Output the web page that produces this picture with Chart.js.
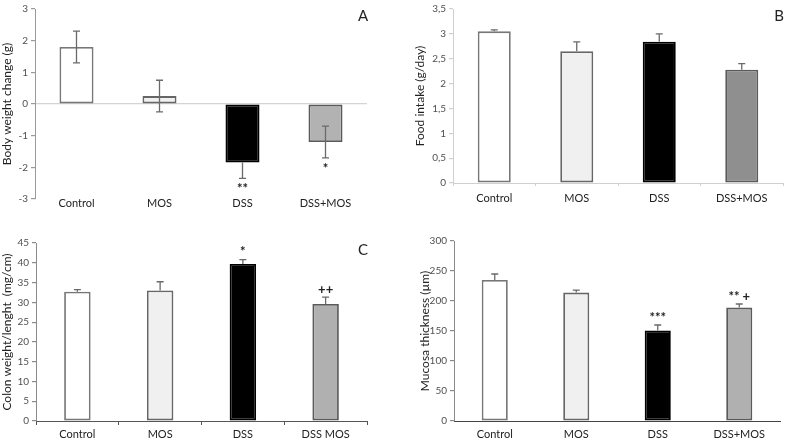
<!DOCTYPE html>
<html>
<head>
<meta charset="utf-8">
<script src="https://cdn.jsdelivr.net/npm/chart.js@4"></script>
<style>
  body { margin: 0; background: #fff; width: 787px; height: 441px; position: relative; overflow: hidden; }
  canvas { position: absolute; }
</style>
</head>
<body>
<canvas id="cA" width="395" height="220" style="left:0;top:0"></canvas>
<canvas id="cB" width="387" height="220" style="left:400px;top:0"></canvas>
<canvas id="cC" width="395" height="221" style="left:0;top:220px"></canvas>
<canvas id="cD" width="387" height="221" style="left:400px;top:220px"></canvas>
<script>
// groups
const groups = ["Control", "MOS", "DSS", "DSS+MOS"];
const groupsC = ["Control", "MOS", "DSS", "DSS MOS"];

// A - body weight change (g)
const weightChange = [1.8, 0.25, -1.85, -1.2];
const weightErr = [0.5, 0.5, 0.5, 0.5];
const weightSig = ["", "", "**", "*"];

// B - food intake (g/day)
const foodIntake = [3.05, 2.65, 2.84, 2.28];
const foodErr = [0.03, 0.19, 0.16, 0.12];

// C - colon weight/lenght (mg/cm)
const colonRatio = [32.7, 33.0, 39.7, 29.6];
const colonErr = [0.5, 2.2, 1.1, 1.7];
const colonSig = ["", "", "*", "++"];

// D - mucosa thickness (µm)
const mucosa = [235, 214, 151, 189];
const mucosaErr = [10, 4, 9, 6];
const mucosaSig = ["", "", "***", "** +"];

const FONT = "Lato, 'Open Sans', sans-serif";
const fills = ["#ffffff", "#f0f0f0", "#000000"];

// error bars, significance marks and panel letter
const extras = {
    id: "extras",
    afterDatasetsDraw(chart, args, opts) {
        const ctx = chart.ctx;
        const y = chart.scales.y;
        const meta = chart.getDatasetMeta(0);
        const vals = chart.data.datasets[0].data;
        ctx.save();
        ctx.strokeStyle = "#6a6a6a";
        ctx.lineWidth = 1.3;
        vals.forEach((v, i) => {
            const x = meta.data[i].x;
            const e = opts.err[i];
            const dark = i === 2;
            // outer part (away from zero)
            const out = v >= 0 ? v + e : v - e;
            const yV = y.getPixelForValue(v);
            const yOut = y.getPixelForValue(out);
            ctx.beginPath();
            ctx.moveTo(x, yV); ctx.lineTo(x, yOut);
            ctx.moveTo(x - 3.5, yOut); ctx.lineTo(x + 3.5, yOut);
            // inner part (inside the bar)
            if (opts.both && !dark) {
                const yIn = y.getPixelForValue(v >= 0 ? v - e : v + e);
                ctx.moveTo(x, yV); ctx.lineTo(x, yIn);
                ctx.moveTo(x - 3.5, yIn); ctx.lineTo(x + 3.5, yIn);
            }
            ctx.stroke();

            const s = opts.sig ? opts.sig[i] : "";
            if (s) {
                ctx.fillStyle = "#222";
                ctx.font = "bold 13px " + FONT;
                ctx.textAlign = "center";
                if (v < 0) {
                    ctx.textBaseline = "top";
                    ctx.fillText(s, x, yOut + 4);
                } else {
                    ctx.textBaseline = "bottom";
                    ctx.fillText(s, x, yOut - 1);
                }
            }
        });
        if (opts.letter) {
            const a = chart.chartArea;
            ctx.fillStyle = "#222";
            ctx.font = "15px " + FONT;
            ctx.textAlign = "center";
            ctx.textBaseline = "middle";
            ctx.fillText(opts.letter, a.right - 4, a.top + 7);
        }
        ctx.restore();
    }
};

function makePanel(id, p) {
    return new Chart(document.getElementById(id), {
        type: "bar",
        data: {
            labels: p.labels,
            datasets: [{
                data: p.values,
                backgroundColor: fills.concat(p.fourth),
                borderColor: ["#777777", "#666666", "#000000", "#5a5a5a"],
                borderWidth: 1.8,
                borderSkipped: false,
                barPercentage: p.barPct,
                categoryPercentage: 1
            }]
        },
        options: {
            responsive: false,
            animation: false,
            layout: { padding: p.padding },
            plugins: {
                legend: { display: false },
                tooltip: { enabled: false },
                extras: { err: p.err, both: p.both, sig: p.sig, letter: p.letter }
            },
            scales: {
                x: {
                    afterFit(s) { s.height = p.xH; },
                    border: { display: p.xBorder !== null, color: p.xBorder || "#fff", width: 1 },
                    grid: {
                        drawOnChartArea: false,
                        color: p.xTicks || "rgba(0,0,0,0)",
                        tickLength: p.xTickLen
                    },
                    ticks: { color: "#222", font: { family: FONT, size: 11 }, padding: p.xPad }
                },
                y: {
                    min: p.min, max: p.max,
                    afterFit(s) { s.width = p.yW; },
                    border: { color: p.yBorder, width: 1 },
                    grid: {
                        color: ctx => (p.zeroLine && ctx.tick && ctx.tick.value === 0) ? "#d4d4d4" : "rgba(0,0,0,0)",
                        tickColor: p.yBorder,
                        tickLength: 4,
                        lineWidth: 1.2
                    },
                    ticks: {
                        stepSize: p.step,
                        color: "#505050",
                        font: { family: FONT, size: 10 },
                        padding: 3,
                        callback: v => String(v).replace(".", ",")
                    },
                    title: {
                        display: true,
                        text: p.title,
                        color: "#222",
                        font: { family: FONT, size: 12 },
                        padding: 0
                    }
                }
            }
        },
        plugins: [extras]
    });
}

makePanel("cA", {
    labels: groups, values: weightChange, err: weightErr, both: true, sig: weightSig, letter: "A",
    fourth: "#b2b2b2", barPct: 0.41, min: -3, max: 3, step: 1,
    title: "Body weight change (g)", padding: { top: 5, right: 28, left: 0, bottom: 0 },
    yW: 35, xH: 21, xPad: -2, xTickLen: 0, xBorder: null, xTicks: null,
    yBorder: "#9a9a9a", zeroLine: true
});

makePanel("cB", {
    labels: groups, values: foodIntake, err: foodErr, both: false, sig: null, letter: "B",
    fourth: "#8f8f8f", barPct: 0.4, min: 0, max: 3.5, step: 0.5,
    title: "Food intake (g/day)", padding: { top: 5, right: 4, left: 13, bottom: 0 },
    yW: 40, xH: 37, xPad: 6, xTickLen: 3, xBorder: "#d0d0d0", xTicks: "#d0d0d0",
    yBorder: "#d0d0d0", zeroLine: false
});

makePanel("cC", {
    labels: groupsC, values: colonRatio, err: colonErr, both: false, sig: colonSig, letter: "C",
    fourth: "#b0b0b0", barPct: 0.32, min: 0, max: 45, step: 5,
    title: "Colon weight/lenght  (mg/cm)", padding: { top: 23, right: 28, left: 0, bottom: 0 },
    yW: 36, xH: 20, xPad: 3, xTickLen: 4, xBorder: "#555", xTicks: "#555",
    yBorder: "#8a8a8a", zeroLine: false
});

makePanel("cD", {
    labels: groups, values: mucosa, err: mucosaErr, both: false, sig: mucosaSig, letter: "",
    fourth: "#b0b0b0", barPct: 0.32, min: 0, max: 300, step: 50,
    title: "Mucosa thickness (µm)", padding: { top: 21, right: 7, left: 18, bottom: 0 },
    yW: 36, xH: 20, xPad: 7, xTickLen: 0, xBorder: "#444", xTicks: null,
    yBorder: "#8a8a8a", zeroLine: false
});
</script>
</body>
</html>
